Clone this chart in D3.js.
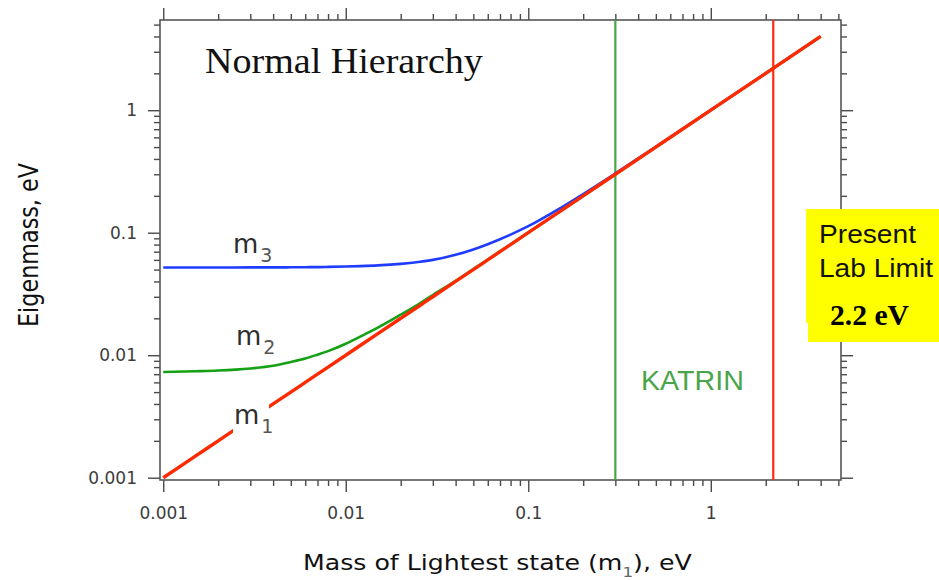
<!DOCTYPE html>
<html>
<head>
<meta charset="utf-8">
<script src="https://cdn.jsdelivr.net/npm/d3@7"></script>
<style>
  html, body { margin: 0; padding: 0; background: #fff; }
  svg { display: block; }
</style>
</head>
<body>
<svg id="chart" width="939" height="580"></svg>
<script>
// Mass of the lightest state m1 (eV), sampled along the curves
const m1 = [0.001, 0.0015, 0.002, 0.003, 0.004, 0.005, 0.006, 0.007, 0.008, 0.01, 0.012, 0.015,
            0.02, 0.025, 0.03, 0.04, 0.05, 0.06, 0.07, 0.08, 0.1, 0.15, 0.2, 0.3, 0.5, 1, 2, 4];
// Second eigenmass m2 (eV) at each m1
const m2 = [0.0073, 0.0074, 0.0075, 0.0078, 0.0082, 0.0088, 0.0094, 0.0101, 0.0108, 0.0124, 0.0142, 0.0168,
            0.0214, 0.026, 0.031, 0.0405, 0.0505, 0.0604, 0.0704, 0.0803, 0.1003, 0.1502, 0.2001, 0.3, 0.5, 1, 2, 4];
// Third eigenmass m3 (eV) at each m1
const m3 = [0.052, 0.052, 0.052, 0.0521, 0.0521, 0.0522, 0.0523, 0.0524, 0.0526, 0.053, 0.0534, 0.0541,
            0.0557, 0.0577, 0.060, 0.066, 0.073, 0.0806, 0.0884, 0.0964, 0.113, 0.159, 0.2068, 0.3046, 0.5027, 1.0013, 2.0007, 4.0];

// Experimental limits (eV)
const katrinLimit = 0.3;
const labLimit = 2.2;

// Axis ticks
const majorTicks = [0.001, 0.01, 0.1, 1];
const majorTickLabels = ["0.001", "0.01", "0.1", "1"];
const minorMultipliers = [2, 3, 4, 5, 6, 7, 8, 9];

const svg = d3.select("#chart");

const plotLeft = 160, plotRight = 841, plotTop = 20, plotBottom = 480;
const x = d3.scaleLog().domain([0.00096, 5.17]).range([plotLeft, plotRight]);
const y = d3.scaleLog().domain([0.000958, 5.45]).range([plotBottom, plotTop]);

const minorX = [];
majorTicks.forEach(d => minorMultipliers.forEach(k => {
  const v = d * k;
  if (v <= x.domain()[1]) minorX.push(v);
}));
const minorY = [];
majorTicks.forEach(d => minorMultipliers.forEach(k => {
  const v = d * k;
  if (v <= y.domain()[1]) minorY.push(v);
}));

const axisColor = "#4a4a4a";
const labelFont = "'DejaVu Sans', Verdana, sans-serif";

function styleAxis(g) {
  g.attr("font-family", labelFont).attr("font-size", 17);
  g.select(".domain").remove();
  g.selectAll(".tick line").attr("stroke", axisColor).attr("stroke-width", 1.4);
  g.selectAll(".tick text").attr("fill", "#3c3c3c");
}

// bottom axis: major with labels, then minor ticks
svg.append("g").attr("transform", `translate(0,${plotBottom})`)
  .call(d3.axisBottom(x).tickValues(majorTicks).tickSize(12).tickPadding(15)
    .tickFormat((d, i) => majorTickLabels[i]))
  .call(styleAxis);
svg.append("g").attr("transform", `translate(0,${plotBottom})`)
  .call(d3.axisBottom(x).tickValues(minorX).tickSize(6).tickFormat(""))
  .call(styleAxis);
// top axis
svg.append("g").attr("transform", `translate(0,${plotTop})`)
  .call(d3.axisTop(x).tickValues(majorTicks).tickSize(12).tickFormat(""))
  .call(styleAxis);
svg.append("g").attr("transform", `translate(0,${plotTop})`)
  .call(d3.axisTop(x).tickValues(minorX).tickSize(6).tickFormat(""))
  .call(styleAxis);
// left axis
svg.append("g").attr("transform", `translate(${plotLeft},0)`)
  .call(d3.axisLeft(y).tickValues(majorTicks).tickSize(12).tickPadding(11)
    .tickFormat((d, i) => majorTickLabels[i]))
  .call(styleAxis);
svg.append("g").attr("transform", `translate(${plotLeft},0)`)
  .call(d3.axisLeft(y).tickValues(minorY).tickSize(6).tickFormat(""))
  .call(styleAxis);
// right axis
svg.append("g").attr("transform", `translate(${plotRight},0)`)
  .call(d3.axisRight(y).tickValues(majorTicks).tickSize(12).tickFormat(""))
  .call(styleAxis);
svg.append("g").attr("transform", `translate(${plotRight},0)`)
  .call(d3.axisRight(y).tickValues(minorY).tickSize(6).tickFormat(""))
  .call(styleAxis);

// plot frame
svg.append("rect")
  .attr("x", plotLeft).attr("y", plotTop)
  .attr("width", plotRight - plotLeft).attr("height", plotBottom - plotTop)
  .attr("fill", "none").attr("stroke", "#555").attr("stroke-width", 1.6);

// limit lines
svg.append("line")
  .attr("x1", x(katrinLimit)).attr("x2", x(katrinLimit))
  .attr("y1", plotTop).attr("y2", plotBottom)
  .attr("stroke", "#45a845").attr("stroke-width", 2.2);
svg.append("line")
  .attr("x1", x(labLimit)).attr("x2", x(labLimit))
  .attr("y1", plotTop).attr("y2", plotBottom)
  .attr("stroke", "#ff2a10").attr("stroke-width", 2.2);

// eigenmass curves
const line = d3.line()
  .x(d => x(d[0]))
  .y(d => y(d[1]))
  .curve(d3.curveMonotoneX);

const series = [
  { name: "m3", values: m3, color: "#1f3cff", width: 2.6 },
  { name: "m2", values: m2, color: "#15a015", width: 2.6 },
  { name: "m1", values: m1, color: "#ff2a00", width: 3.4 }
];
series.forEach(s => {
  svg.append("path")
    .datum(m1.map((v, i) => [v, s.values[i]]))
    .attr("d", line)
    .attr("fill", "none")
    .attr("stroke", s.color)
    .attr("stroke-width", s.width)
    .attr("stroke-linejoin", "round");
});

// text helper: place text at (px, py), optionally stretched horizontally to a given width
function placeText(px, py, str, attrs, width) {
  const g = svg.append("g").attr("transform", `translate(${px},${py})`);
  const t = g.append("text").text(str);
  Object.entries(attrs).forEach(([k, v]) => t.attr(k, v));
  if (width) {
    const s = width / t.node().getComputedTextLength();
    g.attr("transform", `translate(${px},${py}) scale(${s},1)`);
  }
  return g;
}

// curve labels (white backing breaks the m1 line under its label)
svg.append("rect")
  .attr("x", 233).attr("y", 397).attr("width", 36).attr("height", 40)
  .attr("fill", "#fff");

function massLabel(px, py, sub) {
  const t = svg.append("text")
    .attr("x", px).attr("y", py)
    .attr("font-family", labelFont)
    .attr("font-size", 26)
    .attr("fill", "#2e2e2e")
    .text("m");
  t.append("tspan")
    .attr("dy", 9)
    .attr("dx", 2)
    .attr("font-size", 19)
    .attr("fill", "#555")
    .text(sub);
}
massLabel(233, 253, "3");
massLabel(236, 345, "2");
massLabel(234, 424, "1");

// title inside the plot
placeText(205, 73, "Normal Hierarchy", {
  "font-family": "'Liberation Serif', 'Times New Roman', serif",
  "font-size": 35, fill: "#111"
}, 278);

// KATRIN label
placeText(641, 390, "KATRIN", {
  "font-family": "'Liberation Sans', Arial, sans-serif",
  "font-size": 27, fill: "#4aa54a"
}, 103);

// present lab limit callout
svg.append("rect").attr("x", 806).attr("y", 209).attr("width", 133).attr("height", 114).attr("fill", "#ffff00");
svg.append("rect").attr("x", 808).attr("y", 290).attr("width", 131).attr("height", 52).attr("fill", "#ffff00");
placeText(819, 243, "Present", {
  "font-family": "'Liberation Sans', Arial, sans-serif",
  "font-size": 25, fill: "#111"
}, 97);
placeText(819, 277, "Lab Limit", {
  "font-family": "'Liberation Sans', Arial, sans-serif",
  "font-size": 25, fill: "#111"
}, 114);
placeText(830, 325, "2.2 eV", {
  "font-family": "'Liberation Serif', 'Times New Roman', serif",
  "font-size": 30, "font-weight": "bold", fill: "#000"
}, 79);

// x axis title with subscript
{
  const g = svg.append("g");
  const t = g.append("text")
    .attr("font-family", labelFont)
    .attr("font-size", 21)
    .attr("fill", "#111");
  t.append("tspan").text("Mass of Lightest state (m");
  t.append("tspan").attr("dy", 7).attr("font-size", 14).attr("fill", "#666").text("1");
  t.append("tspan").attr("dy", -7).text("), eV");
  const w = t.node().getComputedTextLength();
  const s = 389 / w;
  g.attr("transform", `translate(${497.5 - 389 / 2},570) scale(${s},1)`);
}

// y axis title
{
  const g = svg.append("g");
  const t = g.append("text")
    .attr("font-family", labelFont)
    .attr("font-size", 22)
    .attr("fill", "#111")
    .attr("text-anchor", "middle")
    .text("Eigenmass, eV");
  const w = t.node().getComputedTextLength();
  g.attr("transform", `translate(38,245) rotate(-90) scale(${164 / w},1.2)`);
}
</script>
</body>
</html>
